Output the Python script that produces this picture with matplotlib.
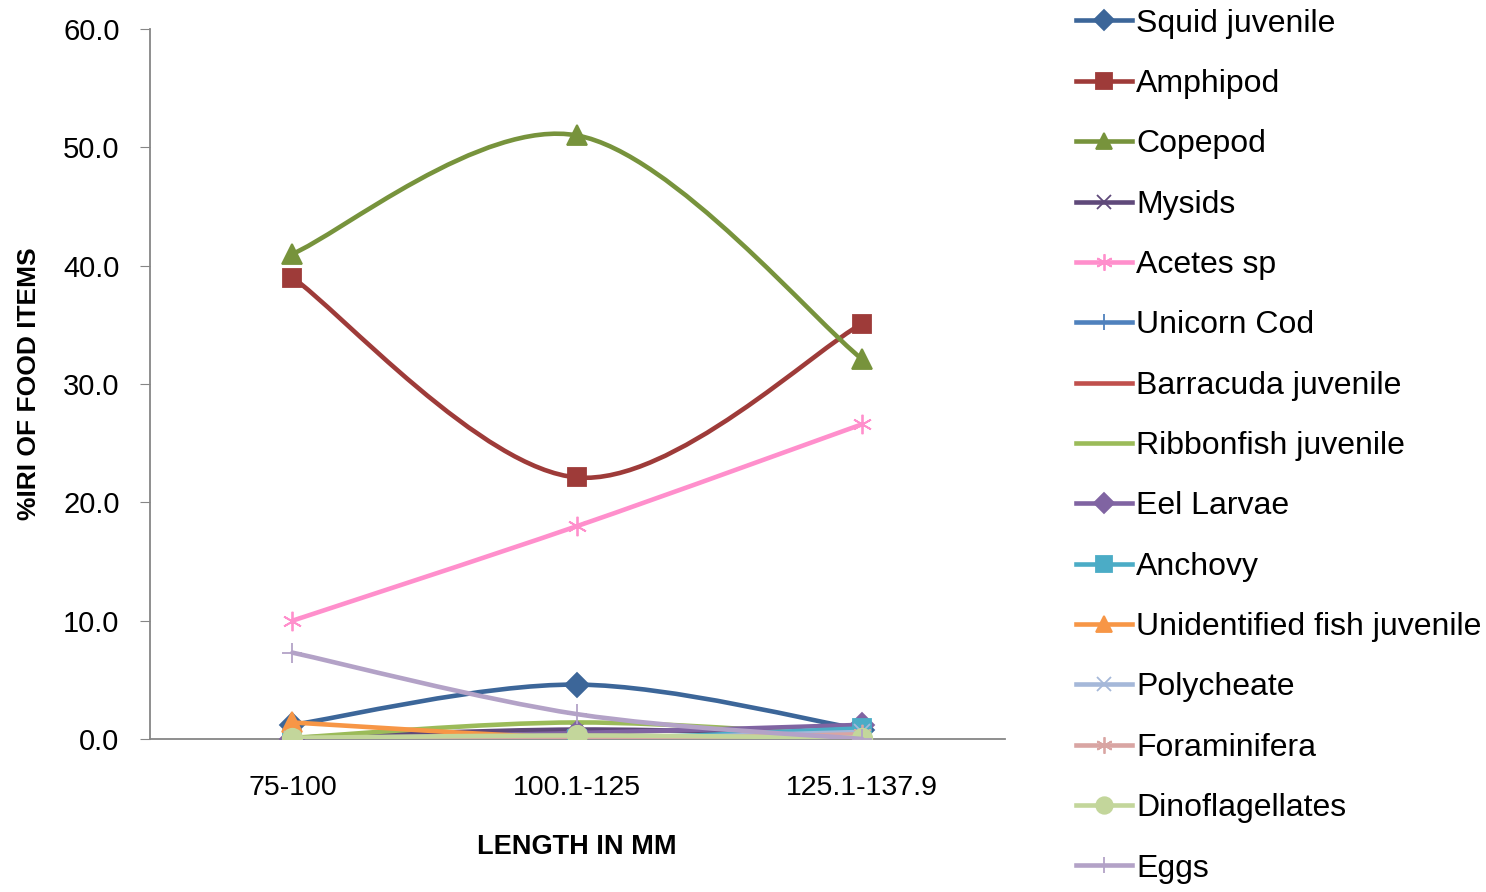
import numpy as np
import matplotlib.pyplot as plt
from matplotlib.path import Path
from matplotlib.patches import PathPatch
from matplotlib.lines import Line2D

plt.rcParams['font.family'] = ['Liberation Sans', 'DejaVu Sans']

# 数据
categories = ["75-100", "100.1-125", "125.1-137.9"]
series_names = ["Squid juvenile", "Amphipod", "Copepod", "Mysids", "Acetes sp",
                "Unicorn Cod", "Barracuda juvenile", "Ribbonfish juvenile",
                "Eel Larvae", "Anchovy", "Unidentified fish juvenile",
                "Polycheate", "Foraminifera", "Dinoflagellates", "Eggs"]
squid = [1.2, 4.6, 0.8]
amphipod = [39.0, 22.1, 35.1]
copepod = [41.0, 51.0, 32.1]
mysids = [0.1, 0.8, 0.3]
acetes = [10.0, 18.0, 26.6]
unicorn_cod = [0.0, 0.0, 0.2]
barracuda = [0.0, 0.0, 0.1]
ribbonfish = [0.1, 1.4, 0.2]
eel_larvae = [0.0, 0.5, 1.2]
anchovy = [0.0, 0.0, 0.9]
unidentified = [1.4, 0.1, 0.1]
polycheate = [0.0, 0.0, 0.6]
foraminifera = [0.0, 0.0, 0.4]
dinoflagellates = [0.1, 0.3, 0.1]
eggs = [7.3, 2.1, 0.0]
values = [squid, amphipod, copepod, mysids, acetes, unicorn_cod, barracuda,
          ribbonfish, eel_larvae, anchovy, unidentified, polycheate,
          foraminifera, dinoflagellates, eggs]

colors = ['#3C6699', '#9E3B39', '#77933C', '#5F497A', '#FF8FCC', '#4F81BD',
          '#C0504D', '#9BBB59', '#8064A2', '#4BACC6', '#F79646', '#A5B8D9',
          '#D9A5A3', '#C3D69B', '#B3A2C7']
markers = ['D', 's', '^', 'x', (6, 2, 0), '+', '_', None, 'D', 's', '^',
           'x', (6, 2, 0), 'o', '+']
msizes = {'D': 12, 's': 13.5, '^': 14, 'o': 14, 'x': 12, '+': 14, '_': 12}


def smooth_path(xs, ys):
    # Excel 风格平滑曲线（贝塞尔）
    pts = np.column_stack([xs, ys]).astype(float)
    n = len(pts)
    verts = [pts[0]]
    codes = [Path.MOVETO]
    for i in range(n - 1):
        p0 = pts[i - 1] if i > 0 else pts[i]
        p1 = pts[i]
        p2 = pts[i + 1]
        p3 = pts[i + 2] if i + 2 < n else pts[i + 1]
        c1 = p1 + (p2 - p0) / 6.0
        c2 = p2 - (p3 - p1) / 6.0
        verts += [c1, c2, p2]
        codes += [Path.CURVE4] * 3
    return Path(verts, codes)


fig = plt.figure(figsize=(14.86, 8.92), dpi=100)
ax = fig.add_axes([0.101, 0.1715, 0.575, 0.796])

x = np.arange(1, len(categories) + 1)
handles = []
for i, (name, vals) in enumerate(zip(series_names, values)):
    patch = PathPatch(smooth_path(x, vals), facecolor='none', edgecolor=colors[i],
                      lw=3.3, zorder=2 + i * 0.1, capstyle='round')
    ax.add_patch(patch)
    m = markers[i]
    ms = msizes.get(m, 14)
    if m is not None:
        ax.plot(x, vals, linestyle='none', marker=m, color=colors[i], markersize=ms,
                markeredgewidth=1.3, zorder=2.05 + i * 0.1)
    handles.append(Line2D([], [], color=colors[i], lw=3.3, marker=m,
                          markersize=ms * 0.85, markeredgewidth=1.3))

ax.set_xlim(0.5, 3.5)
ax.set_ylim(0, 60)
ax.set_yticks(np.arange(0, 61, 10))
ax.set_yticklabels([f"{v:.1f}" for v in np.arange(0, 61, 10)], fontsize=21)
ax.set_xticks(x)
ax.set_xticklabels(categories, fontsize=20.5)
ax.tick_params(axis='x', length=0, pad=26)
ax.tick_params(axis='y', length=7, color='#868686', pad=15)
for s in ['top', 'right']:
    ax.spines[s].set_visible(False)
for s in ['left', 'bottom']:
    ax.spines[s].set_color('#868686')
    ax.spines[s].set_linewidth(1.3)

ax.set_xlabel("LENGTH IN MM", fontsize=19.5, fontweight='bold', labelpad=24)
ax.set_ylabel("%IRI OF FOOD ITEMS", fontsize=19, fontweight='bold', labelpad=16)

fig.legend(handles, series_names, loc='upper left', bbox_to_anchor=(0.7156, 1.0046),
           frameon=False, fontsize=23, handlelength=1.75, handletextpad=0.12,
           labelspacing=0.95, borderaxespad=0)

plt.savefig("out.png", dpi=100)
